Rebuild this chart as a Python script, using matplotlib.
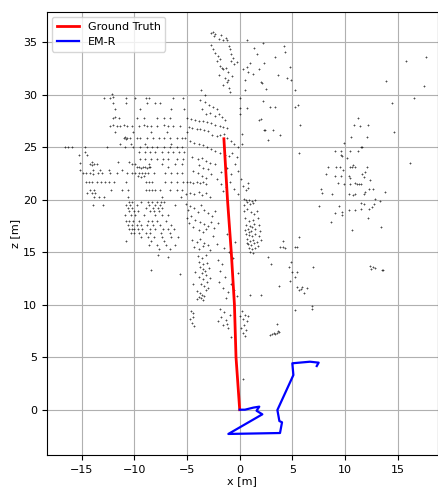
import numpy as np
import matplotlib
matplotlib.use("Agg")
import matplotlib.pyplot as plt

# trajectories (x, z in metres)
gt_x = [0.0, -0.35, -0.5, -0.8, -1.16, -1.5]
gt_z = [0.0, 5.0, 10.0, 15.0, 20.0, 25.8]

em_x = [0.0, 0.5, 1.3, 1.86, 1.6, 2.15, -1.08, 3.83, 4.02, 3.77, 3.58, 5.1, 5.0, 6.68, 7.5, 7.32]
em_z = [0.0, 0.0, 0.2, 0.29, -0.1, -0.44, -2.31, -2.22, -1.2, -1.08, -0.03, 3.3, 4.42, 4.57, 4.48, 4.16]

# map points, grouped by region
cloud_west = [
    (-12.1, 30.1), (-12.9, 29.7), (-12.3, 29.7), (-12.0, 29.8), (-10.8, 29.7), (-9.9, 29.7), (-8.9, 29.7),
    (-8.6, 29.7), (-6.3, 29.7), (-5.4, 29.7), (-12.0, 29.2), (-10.8, 29.2), (-8.8, 29.2), (-8.0, 29.2),
    (-7.6, 29.2), (-11.8, 28.6), (-9.5, 28.6), (-6.5, 28.6), (-5.3, 28.6),
    (-12.0, 27.8), (-11.8, 27.9), (-11.5, 27.8), (-9.8, 27.8), (-9.1, 27.8), (-7.9, 27.8), (-7.2, 27.8),
    (-6.6, 27.8), (-5.0, 27.8),
    (-12.3, 27.0), (-12.0, 27.1), (-11.7, 27.0), (-11.4, 27.0), (-11.0, 27.1), (-10.7, 27.0), (-10.2, 27.0),
    (-9.6, 27.0), (-9.1, 27.1), (-8.8, 27.0), (-8.4, 27.0), (-7.9, 27.0), (-7.2, 27.1), (-6.8, 27.0),
    (-6.3, 27.0), (-5.7, 27.0),
    (-11.8, 26.4), (-10.1, 26.4), (-8.4, 26.4), (-6.9, 26.4), (-5.0, 26.4),
    (-11.0, 25.9), (-10.9, 26.0), (-10.8, 25.8), (-10.7, 25.9), (-10.4, 25.9), (-9.8, 25.9), (-9.5, 25.9),
    (-8.8, 25.9), (-8.2, 25.9), (-7.7, 25.9), (-7.2, 25.9), (-6.6, 25.9), (-6.0, 25.9), (-5.5, 25.9),
    (-5.2, 25.9),
    (-11.4, 25.3), (-10.3, 25.3), (-9.0, 25.3), (-6.5, 25.3),
    (-16.6, 25.0), (-16.3, 25.0), (-15.9, 25.0), (-14.7, 25.0), (-12.6, 25.0), (-10.9, 25.0), (-10.1, 25.0),
    (-9.5, 25.0), (-8.8, 25.0), (-8.3, 25.0), (-7.9, 25.0), (-7.2, 25.0), (-6.6, 25.0), (-6.0, 25.0),
    (-5.5, 25.0),
    (-14.7, 24.5), (-9.6, 24.5), (-9.0, 24.5), (-8.5, 24.5), (-8.0, 24.5), (-7.4, 24.5), (-6.8, 24.5),
    (-6.3, 24.5), (-5.8, 24.5), (-5.3, 24.5), (-15.3, 24.3), (-14.5, 24.3),
    (-9.5, 23.9), (-9.0, 23.9), (-8.4, 23.9), (-7.9, 23.9), (-7.3, 23.9), (-6.8, 23.9), (-6.0, 23.9),
    (-5.4, 23.9), (-15.2, 23.5), (-14.0, 23.6), (-11.6, 23.6), (-10.5, 23.6),
    (-14.2, 23.4), (-14.0, 23.3), (-13.8, 23.4), (-13.6, 23.4), (-10.2, 23.4), (-9.9, 23.4), (-8.6, 23.4),
    (-7.4, 23.4), (-6.1, 23.4), (-5.5, 23.4),
    (-9.8, 23.1), (-9.6, 23.1), (-9.4, 23.0), (-9.2, 23.1), (-9.0, 23.1), (-8.8, 23.0), (-8.6, 23.1),
    (-8.5, 23.1), (-6.8, 23.1),
    (-15.2, 22.8), (-13.9, 22.8), (-13.3, 22.8), (-12.4, 22.8), (-11.2, 22.8),
    (-14.9, 22.5), (-14.6, 22.5), (-14.2, 22.5), (-13.9, 22.4), (-13.5, 22.5), (-13.1, 22.5), (-12.3, 22.5),
    (-11.7, 22.5), (-10.7, 22.5), (-10.2, 22.5), (-9.9, 22.5), (-9.6, 22.5), (-9.3, 22.5), (-9.0, 22.5),
    (-8.7, 22.5), (-8.1, 22.5), (-7.1, 22.5), (-6.5, 22.5), (-6.0, 22.5), (-5.5, 22.5),
    (-9.7, 22.3), (-9.4, 22.2), (-9.1, 22.3),
    (-14.6, 21.7), (-14.3, 21.7), (-14.0, 21.7), (-13.6, 21.7), (-13.2, 21.7), (-12.8, 21.7), (-12.4, 21.7),
    (-11.9, 21.7), (-10.8, 21.7), (-8.9, 21.7), (-8.6, 21.7), (-8.3, 21.7), (-7.1, 21.7), (-6.5, 21.7),
    (-6.0, 21.7), (-5.4, 21.7),
    (-14.2, 20.9), (-13.8, 20.9), (-12.2, 20.9), (-11.2, 20.9), (-10.6, 20.9), (-8.9, 20.9), (-8.6, 20.9),
    (-8.3, 20.9), (-8.0, 20.9), (-7.6, 20.9), (-6.6, 20.9), (-6.0, 20.9), (-5.5, 20.9),
    (-14.5, 20.6), (-14.0, 20.6), (-13.7, 20.6),
    (-13.8, 20.3), (-13.4, 20.3), (-12.9, 20.3), (-10.6, 20.3), (-7.4, 20.3), (-5.6, 20.3),
    (-10.5, 19.8), (-10.2, 19.8), (-9.4, 19.8), (-8.7, 19.8), (-8.3, 19.8), (-7.9, 19.8), (-7.5, 19.8),
    (-7.2, 19.8),
    (-13.9, 19.5), (-13.0, 19.5), (-10.8, 19.5), (-10.4, 19.5), (-9.8, 19.5), (-8.6, 19.5), (-8.0, 19.5),
    (-7.6, 19.5), (-6.1, 19.5),
    (-10.6, 19.2), (-10.2, 19.2), (-8.9, 19.2), (-8.2, 19.2), (-7.8, 19.2), (-7.4, 19.2),
    (-10.5, 18.9), (-10.0, 18.9), (-9.7, 18.9), (-8.5, 18.9), (-8.1, 18.9), (-7.7, 18.9),
    (-10.9, 18.5), (-10.3, 18.5), (-9.9, 18.5), (-9.1, 18.5), (-8.0, 18.5), (-7.4, 18.5), (-6.8, 18.5),
    (-10.8, 18.0), (-10.5, 18.0), (-10.1, 18.0), (-9.6, 18.0), (-8.7, 18.0), (-8.3, 18.0), (-7.9, 18.0),
    (-7.0, 18.0),
    (-10.6, 17.6), (-10.2, 17.6), (-9.8, 17.6), (-9.4, 17.6), (-8.8, 17.6), (-8.2, 17.6), (-7.6, 17.6),
    (-6.5, 17.6),
    (-10.5, 17.2), (-10.2, 17.2), (-10.0, 17.2), (-9.7, 17.2), (-9.3, 17.2), (-8.5, 17.2), (-8.0, 17.2),
    (-7.3, 17.2), (-6.8, 17.2), (-6.2, 17.2),
    (-10.3, 16.8), (-10.0, 16.8), (-9.6, 16.8), (-8.9, 16.8), (-8.5, 16.8), (-7.5, 16.8), (-6.6, 16.8),
    (-9.4, 16.4), (-8.7, 16.4), (-8.1, 16.4), (-7.4, 16.4), (-6.5, 16.4), (-5.9, 16.4),
    (-10.8, 16.1), (-8.4, 16.1), (-7.2, 16.1), (-8.6, 15.7), (-7.9, 15.7), (-7.0, 15.7), (-6.1, 15.7),
    (-7.7, 15.3), (-6.6, 15.3), (-7.8, 14.7), (-6.8, 14.5), (-8.4, 13.3), (-5.7, 12.9),
]

cloud_column = [
    (-2.7, 35.9), (-2.5, 35.95), (-2.3, 35.8), (-2.4, 35.6), (-2.0, 35.3), (-1.8, 35.7), (-1.3, 35.4),
    (-1.2, 35.2), (-1.6, 35.2),
    (-2.75, 34.7), (-2.5, 34.3), (-2.3, 34.0), (-2.1, 33.7), (-1.9, 33.4), (-2.2, 33.2), (-1.9, 32.7),
    (-1.7, 32.5), (-1.6, 32.4), (-1.3, 32.5), (-1.1, 32.2), (-1.4, 31.6), (-1.1, 31.4), (-1.2, 31.2),
    (-1.0, 30.6), (-0.9, 30.3), (-0.8, 33.9), (-0.6, 33.5), (-0.8, 33.2), (-0.5, 32.9), (-0.9, 34.3),
    (-1.0, 34.6), (-2.0, 31.9), (-1.6, 30.9), (-0.7, 31.8), (-0.3, 33.1),
    (-3.7, 30.4), (-3.3, 30.0), (-3.8, 29.5), (-3.3, 29.3), (-2.9, 29.0), (-2.5, 28.8), (-2.2, 28.6),
    (-3.6, 28.6), (-3.2, 28.2), (-2.8, 28.3), (-2.3, 28.0), (-2.0, 28.2), (-1.7, 27.9), (-1.4, 27.6),
    (-4.6, 27.7), (-4.2, 27.6), (-3.9, 27.5), (-3.5, 27.5), (-3.1, 27.4), (-2.7, 27.3), (-2.3, 27.1),
    (-1.9, 27.0), (-1.6, 26.9), (-1.2, 26.8),
    (-4.8, 26.9), (-4.5, 26.8), (-4.1, 26.7), (-3.8, 26.7), (-3.4, 26.6), (-3.0, 26.5), (-2.6, 26.2),
    (-2.2, 26.1), (-1.9, 26.2), (-1.5, 26.3), (-1.2, 25.9), (-0.8, 25.6), (-0.5, 25.3), (-0.2, 25.0),
    (-4.7, 25.6), (-4.3, 25.4), (-3.9, 25.3), (-3.5, 25.2), (-3.1, 25.0), (-2.7, 24.8), (-2.3, 24.6),
    (-1.9, 24.4), (-1.4, 24.3), (-1.0, 24.2), (-0.7, 24.4), (-0.3, 24.1),
    (-4.5, 24.1), (-4.0, 23.9), (-3.6, 24.0), (-3.2, 23.7), (-2.8, 23.5), (-2.3, 23.4), (-3.9, 23.3),
    (-3.5, 23.0), (-3.0, 22.9), (-4.4, 22.7), (-4.0, 22.5), (-3.6, 22.3), (-3.2, 22.1), (-2.7, 22.4),
    (-1.8, 22.6), (-1.2, 23.0), (-0.8, 22.4), (-0.4, 23.4), (-0.2, 22.7),
    (-5.0, 21.7), (-4.7, 21.7), (-4.4, 21.6), (-4.1, 21.7), (-3.8, 21.6), (-3.5, 21.7), (-3.2, 21.5),
    (-2.2, 22.0), (-1.8, 21.5), (-1.3, 21.2), (-0.9, 21.7), (-0.5, 21.0),
    (-5.1, 20.5), (-4.7, 20.6), (-4.3, 20.5), (-3.9, 20.7), (-3.6, 20.4), (-3.2, 20.6), (-2.8, 20.3),
    (-1.6, 20.8),
    (-5.1, 19.6), (-4.7, 19.4), (-4.9, 19.0), (-4.3, 19.2), (-4.0, 18.8), (-3.7, 19.5), (-3.4, 19.0),
    (-3.0, 18.7), (-2.6, 18.4), (-2.3, 18.9), (-4.6, 18.4), (-4.2, 18.1), (-3.8, 17.9), (-3.4, 17.7),
    (-3.0, 17.5), (-2.7, 17.9), (-4.4, 17.4), (-3.9, 17.1), (-3.5, 16.9), (-3.2, 17.2), (-2.4, 17.3),
    (-2.1, 17.8), (-4.8, 17.8), (-5.0, 18.3),
    (-4.5, 16.2), (-4.1, 16.0), (-3.8, 16.3), (-3.4, 15.9), (-3.0, 15.7), (-4.3, 15.5), (-3.9, 15.3),
    (-3.5, 15.6), (-2.8, 15.2), (-2.5, 16.5),
    (-4.0, 14.6), (-3.6, 14.4), (-3.2, 14.7), (-3.9, 14.1), (-3.5, 13.9), (-3.1, 14.0), (-3.8, 13.6),
    (-3.5, 13.4), (-3.3, 13.2), (-3.6, 13.0), (-3.2, 12.8), (-3.9, 12.6), (-3.5, 12.4), (-3.1, 12.2),
    (-3.7, 12.0), (-3.4, 11.8), (-3.0, 11.6), (-4.1, 11.3), (-3.8, 11.1), (-3.6, 10.9), (-3.9, 10.7),
    (-3.7, 10.6), (-3.4, 10.8), (-3.2, 11.4), (-2.8, 12.5), (-2.9, 13.5), (-4.2, 13.1), (-4.4, 12.0),
    (-4.1, 10.5), (-3.5, 10.4),
    (-2.1, 14.3), (-1.7, 13.9), (-1.9, 13.2), (-1.4, 12.6), (-2.0, 12.2), (-1.6, 11.6), (-1.1, 11.2),
    (-0.8, 12.0), (-0.5, 11.4), (-0.3, 10.8), (-1.3, 10.6), (-0.2, 13.0), (-0.6, 14.4), (-1.0, 15.0),
    (-1.5, 15.4), (-2.2, 15.8), (-0.4, 16.0), (-1.2, 16.7),
    (-4.6, 9.4), (-4.4, 9.2), (-4.4, 8.8), (-4.7, 8.6), (-4.5, 8.3), (-4.3, 8.0),
    (-1.9, 9.6), (-1.5, 9.3), (-1.8, 8.8), (-1.3, 8.5), (-1.6, 8.1), (-1.1, 7.8), (-0.9, 9.0),
    (-1.2, 8.2), (-2.1, 8.4), (-0.8, 6.95),
]

cloud_center = [
    (0.4, 18.9), (0.7, 19.1), (1.1, 18.8), (1.4, 18.6), (0.5, 18.3), (0.9, 18.0), (1.3, 18.1), (1.7, 18.3),
    (0.6, 17.6), (1.0, 17.5), (1.4, 17.7), (1.8, 17.6), (0.5, 17.1), (0.8, 17.2), (1.1, 17.0), (1.5, 17.2),
    (1.9, 17.0), (0.6, 16.7), (0.9, 16.6), (1.2, 16.5), (1.5, 16.7), (1.8, 16.5), (0.7, 16.3), (1.0, 16.1),
    (1.3, 16.2), (1.6, 16.0), (2.0, 16.2), (0.8, 15.8), (1.1, 15.7), (1.4, 15.9), (1.7, 15.6), (0.9, 15.4),
    (1.2, 15.3), (1.5, 15.4), (1.0, 15.0), (1.3, 14.9), (0.9, 16.9), (1.2, 17.4), (0.7, 15.9), (1.6, 18.9),
    (0.4, 19.5), (1.0, 19.6), (0.6, 20.0),
    (0.3, 21.3), (0.6, 20.9), (0.8, 21.6), (0.1, 22.0), (-0.2, 20.5), (0.4, 20.1), (0.7, 19.8), (0.9, 20.0),
    (1.2, 19.9), (1.5, 20.0), (0.8, 21.1), (1.3, 19.7),
    (0.2, 9.4), (0.5, 9.0), (0.3, 8.6), (0.7, 8.4), (0.4, 8.1), (0.1, 7.8), (0.6, 7.6), (0.3, 7.3),
    (0.8, 8.9), (0.0, 8.9), (0.5, 7.0), (1.0, 10.9), (2.0, 10.9), (0.35, 2.9),
    (2.9, 7.1), (3.1, 7.2), (3.3, 7.3), (3.5, 7.35), (3.7, 7.4), (3.4, 7.2), (3.6, 7.5),
]

cloud_north = [
    (0.66, 35.2), (1.4, 34.4), (1.6, 33.9), (2.25, 34.9), (4.2, 34.6), (4.3, 34.1), (3.35, 33.6),
    (4.8, 32.6), (1.0, 33.0), (0.7, 32.6), (0.35, 32.4), (0.8, 32.2), (1.3, 32.0), (1.8, 32.4), (2.3, 33.0),
    (3.6, 31.9), (4.5, 31.6), (4.9, 31.4), (2.0, 31.2), (2.1, 31.1), (2.5, 30.5), (5.3, 30.4), (0.5, 30.4),
    (0.5, 31.4), (0.0, 29.7), (0.0, 28.7), (0.66, 28.7), (2.2, 29.4), (2.9, 28.8), (3.35, 28.8),
    (5.3, 28.8), (5.5, 29.0), (5.7, 27.1), (1.8, 27.6), (2.0, 27.7), (2.3, 26.6), (2.4, 26.6), (3.2, 26.6),
    (2.66, 25.7), (3.8, 26.2), (0.2, 25.3), (0.0, 28.2), (0.2, 26.3), (5.6, 24.4),
]

cloud_mid = [
    (4.1, 16.1), (3.8, 15.5), (4.1, 15.5), (4.3, 15.4), (5.25, 15.5), (5.4, 15.5), (5.6, 16.4), (2.7, 14.5),
    (3.0, 13.9), (4.9, 14.1), (4.7, 13.6), (5.0, 13.1), (5.4, 13.1), (4.8, 12.3), (5.3, 12.6), (3.7, 11.8),
    (5.4, 11.7), (5.6, 11.4), (5.9, 11.7), (6.1, 11.1), (6.4, 11.6), (5.8, 11.5), (7.0, 13.6), (5.25, 9.5),
    (6.9, 9.9), (6.9, 9.6), (3.5, 8.2),
]

cloud_east = [
    (15.8, 33.2), (17.7, 33.6), (13.9, 31.3), (17.5, 30.8), (14.5, 29.2), (16.6, 29.7), (11.2, 27.8),
    (10.9, 27.1), (11.4, 27.0), (12.2, 27.1), (14.7, 26.4), (10.6, 26.0), (12.1, 26.0), (9.9, 25.4),
    (11.5, 25.0), (11.65, 25.0), (16.2, 23.5),
    (9.1, 24.6), (9.6, 24.6), (9.6, 24.3), (9.7, 24.2), (10.5, 24.6), (11.2, 24.6), (10.2, 24.0),
    (8.4, 23.1), (9.15, 23.1), (9.5, 23.1), (9.8, 22.8), (10.5, 23.1), (10.7, 23.1), (10.8, 23.3),
    (11.0, 23.1), (12.1, 23.1), (8.2, 22.4), (9.1, 22.3), (9.6, 22.3), (10.35, 22.3), (10.5, 22.1),
    (11.6, 22.4), (11.8, 22.2), (11.9, 22.6), (12.4, 21.9), (9.3, 21.6), (9.9, 21.5), (10.5, 21.5),
    (11.0, 21.55), (11.1, 21.5), (11.3, 21.5), (11.5, 21.5), (12.25, 21.0), (12.7, 21.0), (7.7, 21.0),
    (7.8, 20.6), (8.8, 20.5), (10.35, 20.5), (10.8, 20.4), (11.0, 20.5), (11.9, 20.7), (11.8, 20.5),
    (12.9, 20.1), (13.35, 19.9), (13.8, 20.7), (12.8, 19.6), (12.6, 19.3), (12.3, 19.1), (11.5, 19.7),
    (11.8, 19.6), (11.5, 19.1), (7.5, 19.4), (9.4, 19.4), (9.1, 18.7), (9.7, 18.8), (9.7, 18.5),
    (10.4, 19.0), (11.0, 19.0), (12.2, 18.3), (8.7, 17.85), (10.7, 17.1), (13.4, 17.4),
    (12.4, 13.7), (12.7, 13.6), (12.5, 13.4), (12.9, 13.5), (13.5, 13.3), (13.6, 13.35),
]

plt.rcParams['font.size'] = 8

fig = plt.figure(figsize=(4.39, 4.87), dpi=100)
ax = fig.add_axes([0.106, 0.066, 0.892, 0.910])

for cloud in [cloud_west, cloud_column, cloud_center, cloud_north, cloud_mid, cloud_east]:
    pts = np.array(cloud)
    ax.scatter(pts[:, 0], pts[:, 1], marker='+', s=4, linewidths=0.6, c='k', alpha=0.7, zorder=2)

ax.plot(gt_x, gt_z, color='red', lw=2, label='Ground Truth', zorder=3)
ax.plot(em_x, em_z, color='blue', lw=1.6, label='EM-R', zorder=4)

ax.set_xlim(-18.35, 18.85)
ax.set_ylim(-4.3, 37.9)
ax.set_xticks([-15, -10, -5, 0, 5, 10, 15])
ax.set_yticks([0, 5, 10, 15, 20, 25, 30, 35])
ax.grid(True, zorder=0)
ax.set_axisbelow(True)
ax.set_xlabel('x [m]', labelpad=1)
ax.set_ylabel('z [m]', labelpad=2)
ax.legend(loc='upper left')

fig.savefig('out.png', dpi=100)
